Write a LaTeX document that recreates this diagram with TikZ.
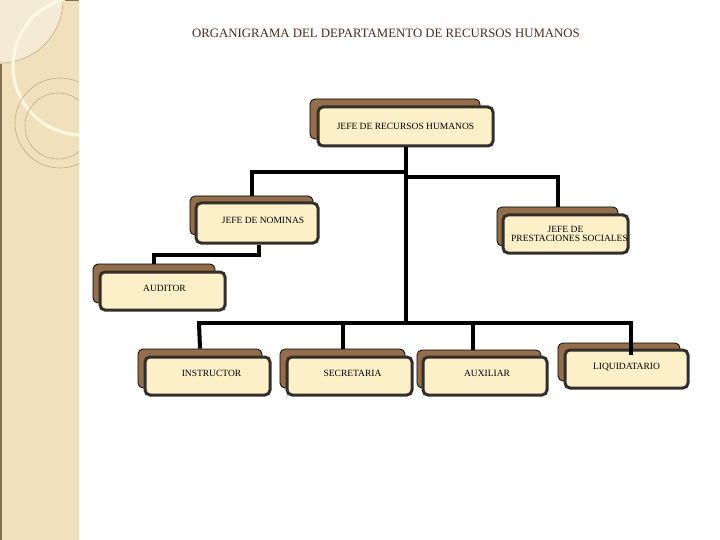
\documentclass[tikz,border=0pt]{standalone}
\usepackage{fontspec}
\setmainfont{Liberation Serif}
\definecolor{stripe}{RGB}{240,225,188}
\definecolor{stripelight}{RGB}{245,235,212}
\definecolor{arcwhite}{RGB}{255,249,228}
\definecolor{thincirc}{RGB}{196,170,132}
\definecolor{edgeline}{RGB}{130,110,80}
\definecolor{backbrown}{RGB}{148,110,74}
\definecolor{frontfill}{RGB}{251,240,200}
\definecolor{frontedge}{RGB}{50,46,42}
\definecolor{titlecol}{RGB}{75,42,30}
\tikzset{
  backbox/.style={draw=black, line width=0.8pt, fill=backbrown, rounded corners=5pt, inner sep=0pt},
  frontbox/.style={draw=frontedge, line width=3pt, fill=frontfill, rounded corners=5pt, inner sep=0pt,
    font=\fontsize{9.5}{11}\selectfont, align=center},
  conn/.style={line width=4pt, black},
}
\begin{document}
\begin{tikzpicture}[x=1pt,y=-1pt]
\useasboundingbox (0,0) rectangle (720,540);
% decorative stripe
\fill[stripe] (0,0) rectangle (79,540);
\begin{scope}
  \clip (0,0) rectangle (79,540);
  \fill[stripelight] (0,0) circle (63);
  \draw[thincirc, line width=0.6pt] (0,0) circle (63);
  \draw[arcwhite, line width=3pt] (82,66) circle (69);
  \draw[thincirc, line width=0.6pt] (60,123) circle (45);
  \draw[thincirc, line width=0.6pt] (58,126) circle (33);
\end{scope}
\draw[edgeline, line width=1.5pt] (0.75,64) -- (0.75,540);
\draw[edgeline, line width=1.5pt] (65,0.75) -- (79,0.75);
% title
\node[text=titlecol, font=\fontsize{12.8}{15}\selectfont] (title) at (386,33) {ORGANIGRAMA DEL DEPARTAMENTO DE RECURSOS HUMANOS};
% back boxes
\node[backbox, minimum width=170, minimum height=40] (jrh-b) at (395,119) {};
\node[backbox, minimum width=123, minimum height=39] (nom-b) at (251.5,215.5) {};
\node[backbox, minimum width=121, minimum height=39] (pre-b) at (557.5,226.5) {};
\node[backbox, minimum width=122, minimum height=39] (aud-b) at (154,283.5) {};
\node[backbox, minimum width=124, minimum height=39] (ins-b) at (200,368.5) {};
\node[backbox, minimum width=125, minimum height=39] (sec-b) at (342.5,368.5) {};
\node[backbox, minimum width=124, minimum height=38] (aux-b) at (479,369) {};
\node[backbox, minimum width=122, minimum height=38] (liq-b) at (619,362) {};
% front boxes
\node[frontbox, minimum width=175, minimum height=39] (jrh) at (405.5,126.5) {JEFE DE  RECURSOS HUMANOS};
\node[frontbox, minimum width=122, minimum height=40] (nom) at (257,223) {\raisebox{5pt}{\hspace{12pt}JEFE DE NOMINAS}};
\node[frontbox, minimum width=125, minimum height=38] (pre) at (565.5,234) {JEFE DE\\[-2pt]\hspace{8pt}PRESTACIONES  SOCIALES};
\node[frontbox, minimum width=125, minimum height=38] (aud) at (162.5,291) {\raisebox{5pt}{\hspace{4pt}AUDITOR}};
\node[frontbox, minimum width=125, minimum height=38] (ins) at (207.5,376) {\raisebox{5pt}{\hspace{8pt}INSTRUCTOR}};
\node[frontbox, minimum width=125, minimum height=38] (sec) at (349.5,376) {\raisebox{5pt}{\hspace{6pt}SECRETARIA}};
\node[frontbox, minimum width=124, minimum height=38] (aux) at (485,376) {\raisebox{6pt}{\hspace{4pt}AUXILIAR}};
\node[frontbox, minimum width=123, minimum height=38] (liq) at (626.5,369) {\raisebox{5pt}{LIQUIDATARIO}};
% connectors
\coordinate (busL) at (199,323);
\coordinate (busR) at (631,323);
\draw[conn] (jrh.south) -- (jrh.south |- busL);
\draw[conn] ([yshift=-25pt]jrh.south) -| (nom-b.north);
\draw[conn] ([yshift=-30pt]jrh.south) -| (pre-b.north);
\draw[conn] ([xshift=2pt]nom.south) -- ++(0,10) -| (aud-b.north);
\draw[conn, line cap=rect] (busL) -- (busR);
\draw[conn] (busL) -- (ins-b.north);
\draw[conn] (sec-b.north |- busL) -- (sec-b.north);
\draw[conn] ([xshift=-6pt]aux-b.north |- busL) -- ([xshift=-6pt]aux-b.north);
\draw[conn] (busR) -- ++(0,32) coordinate (liqend);
\end{tikzpicture}
\end{document}
